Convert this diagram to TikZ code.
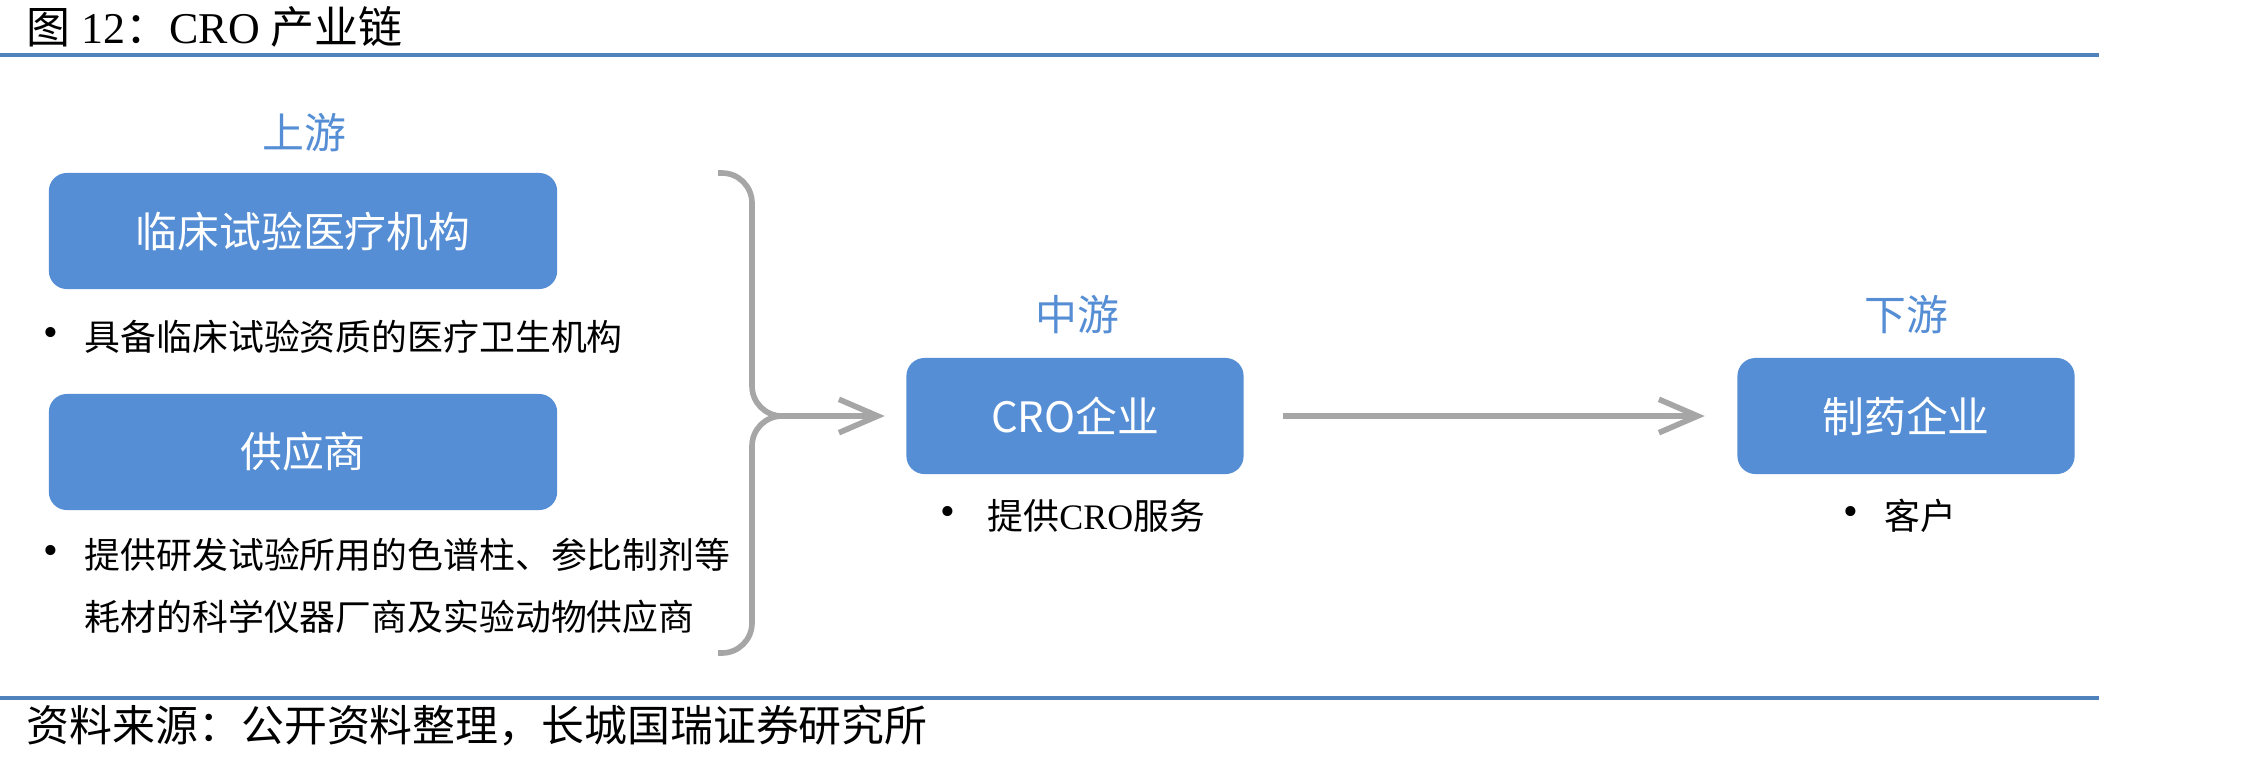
\documentclass[tikz,border=0pt]{standalone}
\usepackage{fontspec}
\setmainfont{Liberation Serif}
\newfontfamily\cjk{Noto Sans CJK SC}
\usetikzlibrary{arrows.meta}

\definecolor{boxblue}{HTML}{558ED5}
\definecolor{ruleblue}{HTML}{4F81BD}
\definecolor{flowgray}{HTML}{A6A6A6}

\tikzset{
  stagebox/.style={fill=boxblue, rounded corners=0.18cm, minimum width=5.08cm,
    minimum height=1.16cm, text=white, font=\cjk\fontsize{11.9}{14}\selectfont},
  stagelabel/.style={text=boxblue, inner sep=0pt, font=\cjk\fontsize{11.9}{14}\selectfont},
  notetext/.style={anchor=west, inner sep=0pt, font=\cjk\fontsize{10.2}{17.6}\selectfont},
  notedot/.style={inner sep=0pt, font=\rmfamily\fontsize{12}{14}\selectfont},
  brace/.style={draw=flowgray, line width=1.6pt, rounded corners=0.3cm},
  flow/.style={draw=flowgray, line width=1.6pt, -{Straight Barb[length=11pt,width=9.5pt]}},
  rule/.style={draw=ruleblue, line width=1.1pt}
}

\begin{document}
\begin{tikzpicture}[x=0.01cm, y=-0.01cm]
    % Frame
    \fill[white] (0,0) rectangle (2267,763);
    \useasboundingbox (0,0) rectangle (2267,763);

    % Title and source
    \node[anchor=west, inner sep=0pt, font=\fontsize{12.5}{14}\selectfont] (title) at (26,27)
      {{\cjk 图} 12{\cjk ：}CRO {\cjk 产业链}};
    \draw[rule] (0,55) -- (2099,55);
    \draw[rule] (0,698) -- (2099,698);
    \node[anchor=west, inner sep=0pt, font=\cjk\fontsize{12.2}{14}\selectfont] (source) at (26,726)
      {资料来源：公开资料整理，长城国瑞证券研究所};

    % Upstream
    \node[stagelabel] (up) at (304,133) {上游};
    \node[stagebox] (clinic) at (303,231) {临床试验医疗机构};
    \node[notedot] (clinicdot) at (51,337) {•};
    \node[notetext] (clinicnote) at (84,337) {具备临床试验资质的医疗卫生机构};
    \node[stagebox] (supplier) at (303,452) {供应商};
    \node[notedot] (supplierdot) at (51,555) {•};
    \node[notetext, align=left] (suppliernote) at (84,586)
      {提供研发试验所用的色谱柱、参比制剂等\\耗材的科学仪器厂商及实验动物供应商};

    % Brace
    \coordinate (bracetop) at (718,173);
    \coordinate (bracebot) at (718,653);
    \coordinate (bracetip) at (752,416);
    \draw[brace] (bracetop) -| (bracetip) -- ++(40,0);
    \draw[brace] (bracebot) -| (bracetip) -- ++(40,0);

    % Midstream
    \node[stagelabel] (mid) at (1077,315) {中游};
    \node[stagebox, minimum width=3.37cm] (cro) at (1075,416) {CRO企业};
    \node[notedot] (crodot) at (948,516) {•};
    \node[notetext] (cronote) at (987,516) {提供{\rmfamily CRO}服务};

    % Downstream
    \node[stagelabel] (down) at (1906,315) {下游};
    \node[stagebox, minimum width=3.37cm] (pharma) at (1906,416) {制药企业};
    \node[notedot] (pharmadot) at (1851,516) {•};
    \node[notetext] (pharmanote) at (1884,516) {客户};

    % Arrows
    \draw[flow, shorten >=0.21cm] ([xshift=0.3cm]bracetip) -- (cro.west);
    \draw[flow, shorten <=0.39cm, shorten >=0.32cm] (cro) -- (pharma);
\end{tikzpicture}
\end{document}
